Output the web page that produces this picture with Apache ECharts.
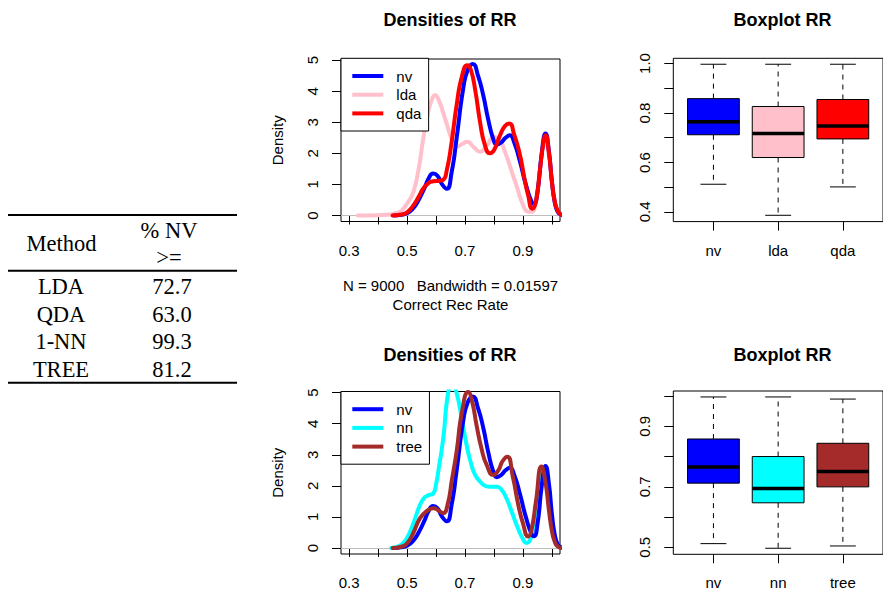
<!DOCTYPE html>
<html>
<head>
<meta charset="utf-8">
<script src="https://cdn.jsdelivr.net/npm/echarts@6/dist/echarts.min.js"></script>
<style>
html,body{margin:0;padding:0;background:#fff;}
#c{width:883px;height:592px;}
</style>
</head>
<body>
<div id="c"></div>
<script>
// ---------- data ----------
const tableHeadMethod = 'Method';
const tableHeadValue = ['% NV', '>='];
const tableMethods = ['LDA', 'QDA', '1-NN', 'TREE'];
const tableValues = ['72.7', '63.0', '99.3', '81.2'];

const densTicks = [0.3, 0.4, 0.5, 0.6, 0.7, 0.8, 0.9, 1.0];
const densLabels = [0.3, 0.5, 0.7, 0.9];
const densYTicks = [0, 1, 2, 3, 4, 5];

const nvDensity = [[0.455,0],[0.48,0.02],[0.50,0.07],[0.52,0.22],[0.54,0.5],[0.56,0.88],[0.575,1.2],[0.59,1.35],[0.605,1.28],[0.62,1.02],[0.637,0.86],[0.654,1.4],[0.671,2.48],[0.694,4.09],[0.71,4.7],[0.727,4.88],[0.745,4.5],[0.763,3.87],[0.78,3.1],[0.798,2.45],[0.81,2.28],[0.825,2.35],[0.84,2.5],[0.855,2.58],[0.87,2.35],[0.89,1.73],[0.91,1.0],[0.93,0.44],[0.938,0.38],[0.95,0.75],[0.965,2.0],[0.978,2.64],[0.99,2.05],[1.0,1.1],[1.01,0.42],[1.02,0.12],[1.03,0.03],[1.045,0]];
const ldaDensity = [[0.33,0],[0.40,0.01],[0.44,0.03],[0.46,0.07],[0.476,0.12],[0.49,0.25],[0.505,0.45],[0.522,0.76],[0.54,1.5],[0.556,2.48],[0.57,3.2],[0.585,3.72],[0.597,3.87],[0.61,3.7],[0.625,3.3],[0.637,2.95],[0.655,2.45],[0.672,2.22],[0.69,2.3],[0.708,2.37],[0.73,2.2],[0.752,2.05],[0.775,2.25],[0.80,2.53],[0.82,2.42],[0.84,2.0],[0.86,1.45],[0.878,0.95],[0.90,0.35],[0.918,0.12],[0.93,0.12],[0.945,0.5],[0.96,1.6],[0.975,2.45],[0.99,1.9],[1.0,1.05],[1.01,0.4],[1.02,0.12],[1.03,0.03],[1.04,0]];
const qdaDensity = [[0.45,0],[0.48,0.03],[0.50,0.1],[0.52,0.3],[0.54,0.6],[0.556,0.87],[0.575,1.05],[0.59,1.1],[0.61,1.12],[0.625,1.15],[0.637,1.45],[0.654,2.37],[0.671,3.55],[0.69,4.5],[0.708,4.84],[0.72,4.7],[0.736,4.0],[0.752,3.01],[0.769,2.26],[0.786,2.0],[0.80,2.1],[0.821,2.58],[0.838,2.88],[0.853,2.96],[0.87,2.6],[0.89,1.94],[0.905,1.2],[0.918,0.65],[0.932,0.22],[0.945,0.45],[0.958,1.4],[0.97,2.3],[0.978,2.58],[0.99,2.0],[1.0,1.1],[1.01,0.45],[1.02,0.15],[1.03,0.04],[1.045,0]];
const nnDensity = [[0.445,0],[0.47,0.05],[0.485,0.15],[0.50,0.32],[0.52,0.75],[0.545,1.39],[0.56,1.62],[0.575,1.7],[0.59,1.75],[0.60,2.05],[0.61,2.6],[0.625,3.53],[0.642,5.0],[0.656,5.3],[0.671,5.0],[0.69,4.1],[0.706,3.3],[0.72,2.75],[0.735,2.35],[0.752,2.14],[0.77,2.0],[0.786,1.97],[0.81,1.97],[0.828,1.85],[0.843,1.6],[0.86,1.2],[0.878,0.75],[0.895,0.38],[0.913,0.16],[0.928,0.35],[0.943,1.0],[0.957,1.9],[0.968,2.4],[0.98,2.2],[0.99,1.5],[1.0,0.8],[1.01,0.3],[1.02,0.1],[1.03,0.02],[1.04,0]];
const treeDensity = [[0.45,0],[0.48,0.04],[0.50,0.15],[0.52,0.45],[0.545,0.96],[0.57,1.2],[0.591,1.28],[0.61,1.2],[0.625,1.12],[0.64,1.4],[0.655,2.2],[0.671,3.1],[0.69,4.4],[0.711,5.02],[0.725,4.7],[0.74,3.95],[0.757,3.2],[0.775,2.67],[0.798,2.35],[0.815,2.5],[0.83,2.8],[0.846,2.94],[0.865,2.3],[0.884,1.39],[0.90,0.8],[0.918,0.37],[0.93,0.6],[0.945,1.5],[0.964,2.62],[0.978,2.1],[0.99,1.2],[1.0,0.55],[1.01,0.2],[1.02,0.05],[1.035,0]];

// boxplot stats: [min, Q1, median, Q3, max]
const boxNamesTop = ['nv', 'lda', 'qda'];
const boxStatsTop = [[0.512,0.712,0.765,0.858,0.997],[0.3865,0.620,0.7168,0.8261,0.997],[0.5012,0.6952,0.7477,0.8544,0.997]];
const boxNamesBottom = ['nv', 'nn', 'tree'];
const boxStatsBottom = [[0.512,0.712,0.765,0.858,0.997],[0.4967,0.647,0.6942,0.800,0.997],[0.5043,0.6997,0.7502,0.8438,0.990]];
const boxTicksTop = [0.4,0.5,0.6,0.7,0.8,0.9,1.0];
const boxLabelsTop = [0.4,0.6,0.8,1.0];
const boxTicksBottom = [0.5,0.6,0.7,0.8,0.9,1.0];
const boxLabelsBottom = [0.5,0.7,0.9];

// ---------- styling ----------
const SANS = 'Liberation Sans, Arial, Helvetica, sans-serif';
const SERIF = 'Liberation Serif, Times New Roman, serif';
const COL = {nv:'#0000FF', lda:'#FFC0CB', qda:'#FF0000', nn:'#00FFFF', tree:'#A52A2A'};
const boxColorsTop = [COL.nv, COL.lda, COL.qda];
const boxColorsBottom = [COL.nv, COL.nn, COL.tree];

const chart = echarts.init(document.getElementById('c'), null, {renderer:'svg'});

function densX(gi, withName) {
  const ax = {
    type:'value', gridIndex:gi, min:0.272, max:1.028,
    axisLine:{show:false}, splitLine:{show:false},
    axisTick:{show:true, length:9, lineStyle:{color:'#000', width:1}, customValues:densTicks},
    axisLabel:{customValues:densLabels, margin:21, fontSize:15, color:'#000', fontFamily:SANS,
      formatter:v=>v.toFixed(1)}
  };
  if (withName) {
    ax.name = 'N = 9000   Bandwidth = 0.01597\nCorrect Rec Rate';
    ax.nameLocation = 'middle';
    ax.nameGap = 55;
    ax.nameTextStyle = {fontSize:15, color:'#000', fontFamily:SANS, lineHeight:18.5};
  }
  return ax;
}
function densY(gi) {
  return {
    type:'value', gridIndex:gi, min:-0.194, max:5.038,
    axisLine:{show:false}, splitLine:{show:false},
    axisTick:{show:true, length:9, lineStyle:{color:'#000', width:1}, customValues:densYTicks},
    axisLabel:{customValues:densYTicks, rotate:90, margin:21, fontSize:15, color:'#000', fontFamily:SANS},
    name:'Density', nameLocation:'middle', nameGap:56,
    nameTextStyle:{fontSize:15, color:'#000', fontFamily:SANS}
  };
}
function boxX(gi, names) {
  return {
    type:'value', gridIndex:gi, min:0.38, max:3.62,
    axisLine:{show:false}, splitLine:{show:false},
    axisTick:{show:true, length:9, lineStyle:{color:'#000', width:1}, customValues:[1,2,3]},
    axisLabel:{customValues:[1,2,3], margin:21, fontSize:15, color:'#000', fontFamily:SANS,
      formatter:v=>names[Math.round(v)-1]}
  };
}
function boxY(gi, mn, mx, ticks, labels) {
  return {
    type:'value', gridIndex:gi, min:mn, max:mx,
    axisLine:{show:false}, splitLine:{show:false},
    axisTick:{show:true, length:9, lineStyle:{color:'#000', width:1}, customValues:ticks},
    axisLabel:{customValues:labels, rotate:90, margin:21, fontSize:15, color:'#000', fontFamily:SANS,
      formatter:v=>v.toFixed(1)}
  };
}
function densSeries(name, data, gi, color, withZero) {
  const s = {
    name:name, type:'line', xAxisIndex:gi, yAxisIndex:gi, data:data,
    showSymbol:false, symbol:'none', smooth:0.55,
    lineStyle:{color:color, width:4, join:'round', cap:'round'}, itemStyle:{color:color}, clip:true, silent:true
  };
  if (withZero) {
    s.markLine = {silent:true, symbol:'none', z:1, label:{show:false},
      lineStyle:{color:'#BEBEBE', width:1, type:'solid'}, data:[{yAxis:0}]};
  }
  return s;
}
function boxSeries(stats, colors, gi) {
  return {
    type:'custom', xAxisIndex:gi, yAxisIndex:gi, silent:true,
    data: stats.map((s,i)=>[i+1].concat(s)),
    encode:{x:0, y:[1,2,3,4,5]},
    renderItem:function(params, api){
      const x = api.value(0);
      const lo = api.value(1), q1 = api.value(2), md = api.value(3), q3 = api.value(4), hi = api.value(5);
      const tl = api.coord([x-0.4, q3]);
      const br = api.coord([x+0.4, q1]);
      const c = api.coord([x, md]);
      const pHi = api.coord([x, hi]);
      const pLo = api.coord([x, lo]);
      const capL = api.coord([x-0.2, hi])[0];
      const capR = api.coord([x+0.2, hi])[0];
      const dash = {stroke:'#000', lineWidth:1, lineDash:[5,5]};
      const solid = {stroke:'#000', lineWidth:1};
      return {type:'group', children:[
        {type:'line', shape:{x1:c[0], y1:tl[1], x2:c[0], y2:pHi[1]}, style:dash},
        {type:'line', shape:{x1:c[0], y1:br[1], x2:c[0], y2:pLo[1]}, style:dash},
        {type:'line', shape:{x1:capL, y1:pHi[1], x2:capR, y2:pHi[1]}, style:solid},
        {type:'line', shape:{x1:capL, y1:pLo[1], x2:capR, y2:pLo[1]}, style:solid},
        {type:'rect', shape:{x:tl[0], y:tl[1], width:br[0]-tl[0], height:br[1]-tl[1]},
          style:{fill:colors[params.dataIndex], stroke:'#000', lineWidth:1}},
        {type:'line', shape:{x1:tl[0], y1:c[1], x2:br[0], y2:c[1]}, style:{stroke:'#000', lineWidth:3.5}}
      ]};
    }
  };
}

const gridStyle = {show:true, borderColor:'#000', borderWidth:1, backgroundColor:'transparent', containLabel:false};
const legendCommon = {
  orient:'vertical', icon:'rect', itemWidth:31, itemHeight:4, itemGap:3.7,
  padding:[10.2, 7.3, 10.1, 11.3], borderColor:'#000', borderWidth:1, backgroundColor:'#fff',
  textStyle:{fontSize:15, color:'#000', fontFamily:SANS, lineHeight:15, padding:[0,0,0,8]},
  selectedMode:false, inactiveColor:'#000'
};

// table graphics
const tbl = [];
const ruleStyle = {stroke:'#000', lineWidth:2};
const tx0 = 8, tx1 = 237;
tbl.push({type:'line', shape:{x1:tx0, y1:215, x2:tx1, y2:215}, style:ruleStyle});
tbl.push({type:'line', shape:{x1:tx0, y1:270.7, x2:tx1, y2:270.7}, style:ruleStyle});
tbl.push({type:'line', shape:{x1:tx0, y1:382.7, x2:tx1, y2:382.7}, style:ruleStyle});
const tFont = {fontSize:22.5, fontFamily:SERIF, fill:'#000', align:'center', verticalAlign:'middle'};
tbl.push({type:'text', x:61.5, y:243.5, style:Object.assign({text:tableHeadMethod}, tFont)});
tbl.push({type:'text', x:169, y:230, style:Object.assign({text:tableHeadValue[0]}, tFont)});
tbl.push({type:'text', x:169, y:257.5, style:Object.assign({text:tableHeadValue[1]}, tFont)});
const rowY = [286.5, 314, 341.5, 369];
tableMethods.forEach((m,i)=>{
  tbl.push({type:'text', x:61, y:rowY[i], style:Object.assign({text:m}, tFont)});
  tbl.push({type:'text', x:172, y:rowY[i], style:Object.assign({text:tableValues[i]}, tFont)});
});

const titleStyle = {fontSize:18, fontWeight:'bold', color:'#000', fontFamily:SANS};
const option = {
  animation:false,
  backgroundColor:'#fff',
  title:[
    {text:'Densities of RR', left:450, top:11, textAlign:'center', padding:0, textStyle:titleStyle},
    {text:'Boxplot RR', left:782.6, top:11, textAlign:'center', padding:0, textStyle:titleStyle},
    {text:'Densities of RR', left:450, top:346, textAlign:'center', padding:0, textStyle:titleStyle},
    {text:'Boxplot RR', left:782.6, top:346, textAlign:'center', padding:0, textStyle:titleStyle}
  ],
  grid:[
    Object.assign({left:341, top:59, width:219, height:162.5}, gridStyle),
    Object.assign({left:673.3, top:58.3, width:218.6, height:163.3}, gridStyle),
    Object.assign({left:341, top:391.5, width:219, height:162.5}, gridStyle),
    Object.assign({left:673.3, top:391, width:218.6, height:163.3}, gridStyle)
  ],
  xAxis:[ densX(0, true), boxX(1, boxNamesTop), densX(2, false), boxX(3, boxNamesBottom) ],
  yAxis:[ densY(0), boxY(1, 0.361, 1.021, boxTicksTop, boxLabelsTop), densY(2),
          boxY(3, 0.4767, 1.0167, boxTicksBottom, boxLabelsBottom) ],
  legend:[
    Object.assign({data:['nv','lda','qda'], left:341, top:58.3}, legendCommon),
    Object.assign({data:['nv','nn','tree'], left:341, top:391.5}, legendCommon)
  ],
  series:[
    densSeries('lda', ldaDensity, 0, COL.lda, true),
    densSeries('nv', nvDensity, 0, COL.nv, false),
    densSeries('qda', qdaDensity, 0, COL.qda, false),
    boxSeries(boxStatsTop, boxColorsTop, 1),
    densSeries('nn', nnDensity, 2, COL.nn, true),
    densSeries('nv', nvDensity, 2, COL.nv, false),
    densSeries('tree', treeDensity, 2, COL.tree, false),
    boxSeries(boxStatsBottom, boxColorsBottom, 3)
  ],
  graphic:tbl
};
chart.setOption(option);
</script>
</body>
</html>
